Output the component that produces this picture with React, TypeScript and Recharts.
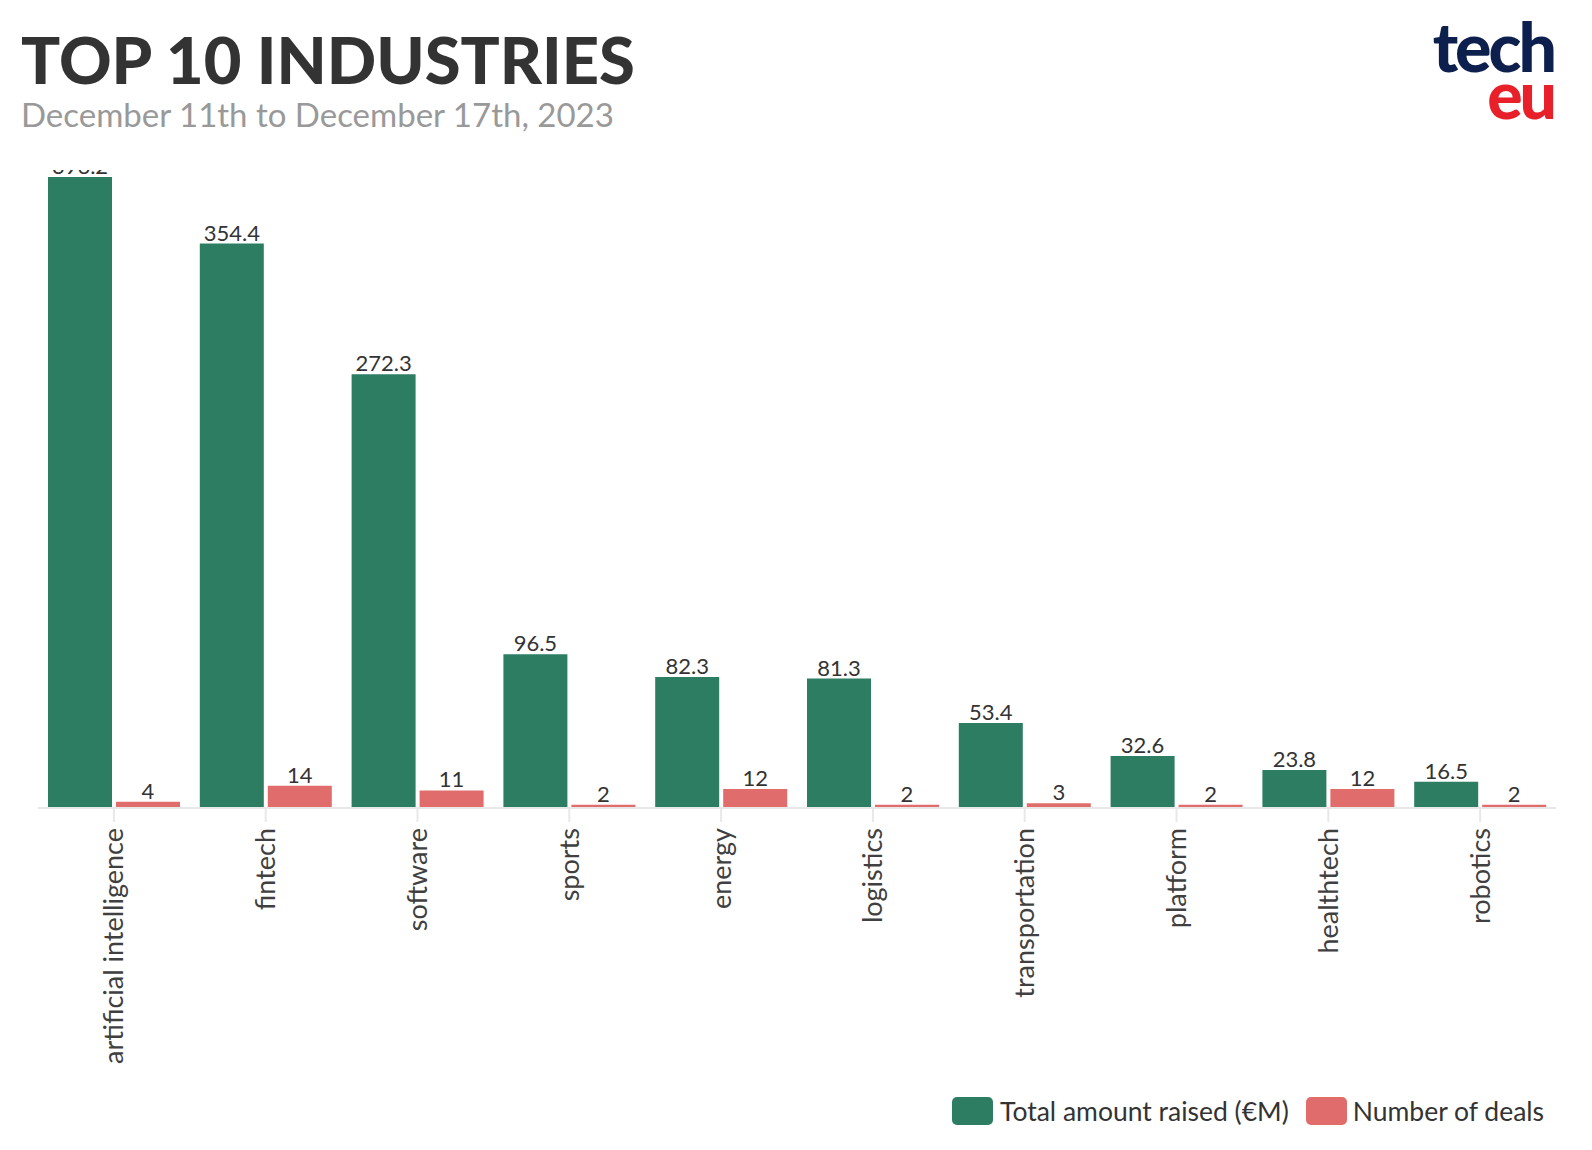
import React from "react";
import { BarChart, Bar, XAxis, YAxis, LabelList } from "recharts";

const categories = [
  "artificial intelligence",
  "fintech",
  "software",
  "sports",
  "energy",
  "logistics",
  "transportation",
  "platform",
  "healthtech",
  "robotics",
];
const totalRaised = [396.2, 354.4, 272.3, 96.5, 82.3, 81.3, 53.4, 32.6, 23.8, 16.5];
const numberOfDeals = [4, 14, 11, 2, 12, 2, 3, 2, 12, 2];

const GREEN = "#2d7d63";
const RED = "#e06c6c";
const FONT = "Lato, 'Noto Sans', sans-serif";

const data = categories.map((c, i) => ({
  name: c,
  total: totalRaised[i],
  deals: numberOfDeals[i],
}));

const Tick = (props: any) => {
  const { x, y, payload } = props;
  return (
    <g transform={`translate(${x},${y})`}>
      <text
        x={0}
        y={0}
        dy="0.35em"
        transform="rotate(-90)"
        textAnchor="end"
        fill="#404040"
        fontSize={27}
        fontFamily={FONT}
      >
        {payload.value}
      </text>
    </g>
  );
};

export default function App() {
  return (
    <div
      style={{
        position: "absolute",
        left: 0,
        top: 0,
        width: 1592,
        height: 1150,
        background: "#fff",
        fontFamily: FONT,
        overflow: "hidden",
      }}
    >
      <div
        style={{
          position: "absolute",
          left: 21,
          top: 22,
          fontSize: 65,
          fontWeight: 900,
          color: "#333",
          lineHeight: "74px",
        }}
      >
        TOP 10 INDUSTRIES
      </div>
      <div
        style={{
          position: "absolute",
          left: 21,
          top: 94,
          fontSize: 33,
          color: "#999",
          lineHeight: "40px",
        }}
      >
        December 11th to December 17th, 2023
      </div>
      <div
        style={{
          position: "absolute",
          right: 38,
          top: 22,
          textAlign: "right",
          fontWeight: 900,
          letterSpacing: -3,
        }}
      >
        <div style={{ color: "#0d1f4c", fontSize: 68, lineHeight: "48px" }}>tech</div>
        <div style={{ color: "#e8202a", fontSize: 66, lineHeight: "48px" }}>eu</div>
      </div>

      <div
        style={{
          position: "absolute",
          left: 0,
          top: 170,
          width: 1592,
          height: 906,
          overflow: "hidden",
        }}
      >
        <BarChart
          width={1592}
          height={906}
          data={data}
          margin={{ top: 7, right: 36, left: 38, bottom: 0 }}
          barCategoryGap={10}
          barGap={4}
        >
          <XAxis
            dataKey="name"
            interval={0}
            height={268}
            axisLine={{ stroke: "#e8e8e8", strokeWidth: 2 }}
            tickLine={{ stroke: "#e8e8e8", strokeWidth: 2 }}
            tickSize={14}
            tickMargin={6}
            tick={<Tick />}
          />
          <YAxis hide domain={[0, "dataMax"]} />
          <Bar dataKey="total" fill={GREEN} isAnimationActive={false}>
            <LabelList
              dataKey="total"
              position="top"
              offset={3}
              fill="#333"
              fontSize={22}
              fontFamily={FONT}
            />
          </Bar>
          <Bar dataKey="deals" fill={RED} isAnimationActive={false}>
            <LabelList
              dataKey="deals"
              position="top"
              offset={3}
              fill="#333"
              fontSize={22}
              fontFamily={FONT}
            />
          </Bar>
        </BarChart>
      </div>

      <div
        style={{
          position: "absolute",
          left: 952,
          top: 1095,
          display: "flex",
          alignItems: "center",
          fontSize: 26.5,
          color: "#333",
        }}
      >
        <span
          style={{
            display: "inline-block",
            width: 41,
            height: 28,
            borderRadius: 5,
            background: GREEN,
            marginRight: 7,
          }}
        />
        <span style={{ marginRight: 17 }}>Total amount raised (€M)</span>
        <span
          style={{
            display: "inline-block",
            width: 41,
            height: 28,
            borderRadius: 5,
            background: RED,
            marginRight: 6,
          }}
        />
        <span>Number of deals</span>
      </div>
    </div>
  );
}
